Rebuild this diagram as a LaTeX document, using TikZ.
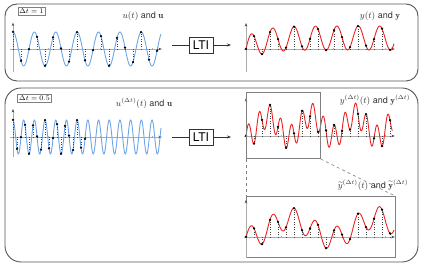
\documentclass[tikz,border=0pt]{standalone}
\usepackage{amsmath,amssymb}
\usepackage{fontspec}
\setsansfont{TeX Gyre Heros}
\usepackage{xcolor}
\usepackage{tikz}
\usetikzlibrary{positioning,arrows.meta}

\definecolor{sigblue}{RGB}{110,165,230}
\definecolor{sigred}{RGB}{235,35,35}
\definecolor{framegray}{RGB}{85,85,85}

\begin{document}
\begin{tikzpicture}[x=1pt, y=1pt,
  declare function={uin(\t)=cos(deg(2.35*\t));
    yout(\t)=11*(1-exp(-\t/2))+12*sin(deg(2.35*\t));
    gout(\t)=(1-exp(-\t/2))*(10+11*sin(deg(2*pi*(\t-2.5)/11)))+12*sin(deg(2.35*\t));},
  frame/.style={draw=framegray, line width=0.9pt},
  dtbox/.style={draw=gray, fill=white, inner sep=1.6pt, font=\scriptsize},
  lti/.style={draw=black!80, line width=0.7pt, minimum width=24pt, minimum height=16pt,
              inner sep=1pt, font=\sffamily\large},
  lbl/.style={font=\sffamily\small, text=black!80},
  axis/.style={draw=gray!65, line width=0.6pt},
  axarr/.style={axis, -{Stealth[length=3.5pt, width=2.6pt, color=black!70]}},
  conn/.style={draw=black!80, line width=0.7pt},
  stem/.style={dotted, draw=black!75, line width=0.45pt},
  zoombox/.style={draw=gray, line width=0.7pt, anchor=south west, inner sep=0pt}
]
\useasboundingbox (0,0) rectangle (423,272);

% frames
\draw[frame, rounded corners=12pt] (5,191) rectangle (418,268);
\draw[frame, rounded corners=16pt] (5,10) rectangle (418,184);
\node[dtbox] (dt1) at (31.5,261) {$\Delta t = 1$};
\node[dtbox] (dt2) at (34.5,173.5) {$\Delta t = 0.5$};

% top row
\node[lbl] (ulab) at (143,256) {$u(t)$ and $\mathbf{u}$};
\node[lbl] (ylab) at (380,256) {$y(t)$ and $\mathbf{y}$};
\begin{scope}[shift={(13,223)}, x=8pt, y=17pt]
  \draw[axarr] (-0.4,0) -- (18.6,0);
  \draw[axarr] (0,-1.35) -- (0,1.55);
  \foreach \k in {4.4,10.9,17.4} \draw[axis] (\k,-0.08) -- (\k,0.08);
  \draw[sigblue, line width=0.9pt] plot[domain=0:18.5, samples=250, smooth] (\x,{uin(\x)});
  \foreach \k in {0,...,18} {
    \draw[stem] (\k,0) -- (\k,{uin(\k)});
    \fill (\k,{uin(\k)}) circle (1.25pt);
  }
\end{scope}
\node[lti] (lti1) at (201,227) {LTI};
\coordinate (in1) at (172,227);
\coordinate (out1) at (231,227);
\draw[conn] (in1) -- (lti1);
\draw[conn, -{Stealth[length=4pt, width=3pt]}] (lti1) -- (out1);
\begin{scope}[shift={(246,223)}, x=8pt, y=1pt]
  \draw[axarr] (-0.3,0) -- (18.6,0);
  \draw[axarr] (0,-23) -- (0,26);
  \foreach \k in {4.4,10.9,17.4} \draw[axis] (\k,-1.3) -- (\k,1.3);
  \draw[sigred, line width=0.9pt] plot[domain=0:18.5, samples=250, smooth] (\x,{yout(\x)});
  \foreach \k in {0,...,18} {
    \draw[stem] (\k,0) -- (\k,{yout(\k)});
    \fill (\k,{yout(\k)}) circle (1.25pt);
  }
\end{scope}

% bottom row
\node[lbl] (udlab) at (144,169) {$u^{(\Delta t)}(t)$ and $\mathbf{u}$};
\node[lbl] (ydlab) at (375,172) {$y^{(\Delta t)}(t)$ and $\mathbf{y}^{(\Delta t)}$};
\begin{scope}[shift={(13,135)}, x=4pt, y=17pt]
  \draw[axarr] (-0.8,0) -- (37.2,0);
  \draw[axarr] (0,-1.2) -- (0,1.65);
  \foreach \k in {8.8,21.8,34.8} \draw[axis] (\k,-0.08) -- (\k,0.08);
  \draw[sigblue, line width=0.9pt] plot[domain=0:37, samples=400, smooth] (\x,{uin(\x)});
  \foreach \k in {0,...,18} {
    \draw[stem] (\k,0) -- (\k,{uin(\k)});
    \fill (\k,{uin(\k)}) circle (1.25pt);
  }
\end{scope}
\node[lti] (lti2) at (201,135) {LTI};
\coordinate (in2) at (172,135);
\coordinate (out2) at (231,135);
\draw[conn] (in2) -- (lti2);
\draw[conn, -{Stealth[length=4pt, width=3pt]}] (lti2) -- (out2);
\begin{scope}[shift={(246,136)}, x=4pt, y=1pt]
  \draw[axarr] (-0.6,0) -- (37.2,0);
  \draw[axarr] (0,-23) -- (0,38);
  \foreach \k in {8.8,21.8,34.8} \draw[axis] (\k,-1.3) -- (\k,1.3);
  \draw[sigred, line width=0.9pt] plot[domain=0:36.6, samples=400, smooth] (\x,{gout(\x)});
  \foreach \k in {0,2,...,36} {
    \draw[stem] (\k,0) -- (\k,{gout(\k)});
    \fill (\k,{gout(\k)}) circle (1.25pt);
  }
\end{scope}

% zoom
\node[zoombox, minimum width=74pt, minimum height=66pt] (zr) at (246,113) {};
\node[zoombox, minimum width=149pt, minimum height=61pt] (zb) at (246,14) {};
\draw[gray, dashed, line width=0.6pt] (zr.south west) -- (zb.north west);
\draw[gray, dashed, line width=0.6pt] (zr.south east) -- (zb.north east);
\node[lbl] (yzlab) at (373,87) {$\widetilde{y}^{(\Delta t)}(t)$ and $\widetilde{\mathbf{y}}^{(\Delta t)}$};
\begin{scope}[shift={(246,35)}, x=8pt, y=0.93pt]
  \draw[axarr] (-0.3,0) -- (18.6,0);
  \draw[axarr] (0,-22.5) -- (0,40);
  \foreach \k in {4.4,10.9,17.4} \draw[axis] (\k,-1.4) -- (\k,1.4);
  \draw[sigred, line width=0.9pt] plot[domain=0:18.5, samples=250, smooth] (\x,{gout(\x)});
  \foreach \k in {0,...,18} {
    \draw[stem] (\k,0) -- (\k,{gout(\k)});
    \fill (\k,{gout(\k)}) circle (1.25pt);
  }
\end{scope}
\end{tikzpicture}
\end{document}
